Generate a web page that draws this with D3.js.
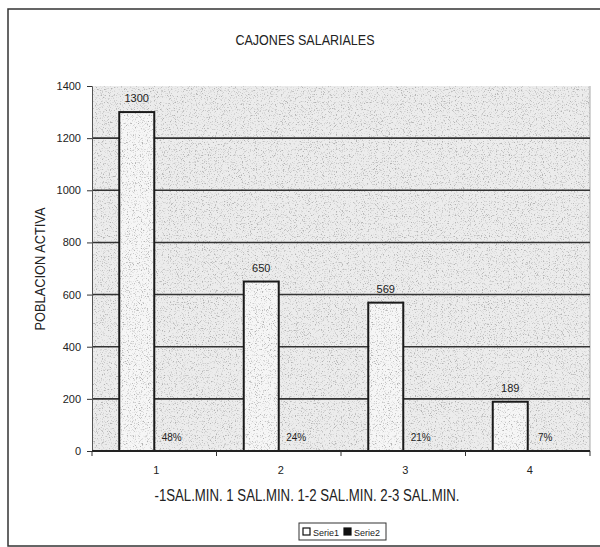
<!DOCTYPE html>
<html>
<head>
<meta charset="utf-8">
<script src="https://cdn.jsdelivr.net/npm/d3@7"></script>
<style>
  html, body { margin: 0; padding: 0; background: #fff; }
  svg { display: block; }
  text { font-family: "Liberation Sans", Arial, sans-serif; fill: #222; }
</style>
</head>
<body>
<svg id="chart" width="600" height="547"></svg>
<script>
// Population per wage bracket (Serie1) and the share of the total (Serie2)
const categories = ["1", "2", "3", "4"];
const seriesNames = ["Serie1", "Serie2"];
const poblacion = [1300, 650, 569, 189];
const porcentaje = [0.48, 0.24, 0.21, 0.07];
const yTicks = [0, 200, 400, 600, 800, 1000, 1200, 1400];
const title = "CAJONES SALARIALES";
const yTitle = "POBLACION ACTIVA";
const xTitle = "-1SAL.MIN. 1 SAL.MIN.  1-2 SAL.MIN. 2-3 SAL.MIN.";

const svg = d3.select("#chart");
const W = 600, H = 547;
const plot = { left: 92, right: 590, top: 86, bottom: 451 };

// speckled grey texture for the plot area and the bars
const defs = svg.append("defs");
const grain = defs.append("filter").attr("id", "grain")
  .attr("x", 0).attr("y", 0).attr("width", "100%").attr("height", "100%");
grain.append("feTurbulence").attr("type", "fractalNoise")
  .attr("baseFrequency", 0.85).attr("numOctaves", 2).attr("seed", 7).attr("result", "noise");
grain.append("feColorMatrix").attr("in", "noise").attr("type", "matrix")
  .attr("values", "0 0 0 0 0.45  0 0 0 0 0.45  0 0 0 0 0.45  4.5 0 0 0 -2.45")
  .attr("result", "dots");
grain.append("feComposite").attr("in", "dots").attr("in2", "SourceGraphic")
  .attr("operator", "atop");

// outer chart frame
svg.append("rect")
  .attr("x", 8).attr("y", 9).attr("width", W).attr("height", H - 10)
  .attr("fill", "#fff").attr("stroke", "#333").attr("stroke-width", 1.5);

const y = d3.scaleLinear().domain([0, 1400]).range([plot.bottom, plot.top]);
const x0 = d3.scaleBand().domain(categories).range([plot.left, plot.right]).padding(0);
const barW = 35;
const x1 = d3.scaleBand().domain(seriesNames)
  .range([(x0.bandwidth() - 2 * barW) / 2, (x0.bandwidth() + 2 * barW) / 2]).padding(0);

// plot background
svg.append("rect")
  .attr("x", plot.left).attr("y", plot.top)
  .attr("width", plot.right - plot.left).attr("height", plot.bottom - plot.top)
  .attr("fill", "#ececec").attr("filter", "url(#grain)");
svg.append("line")
  .attr("x1", plot.right).attr("x2", plot.right)
  .attr("y1", plot.top).attr("y2", plot.bottom)
  .attr("stroke", "#aaa").attr("stroke-width", 1);

// horizontal gridlines
svg.append("g").selectAll("line")
  .data(yTicks.filter(v => v > 0 && v < 1400))
  .join("line")
  .attr("x1", plot.left).attr("x2", plot.right)
  .attr("y1", d => y(d)).attr("y2", d => y(d))
  .attr("stroke", "#333").attr("stroke-width", 1.6);

// bars
const groups = svg.append("g").selectAll("g")
  .data(categories.map((c, i) => ({ c, vals: [poblacion[i], porcentaje[i]] })))
  .join("g")
  .attr("transform", d => `translate(${x0(d.c)},0)`);

groups.append("rect")
  .attr("x", x1("Serie1")).attr("width", x1.bandwidth())
  .attr("y", d => y(d.vals[0])).attr("height", d => y(0) - y(d.vals[0]))
  .attr("fill", "#f6f6f6").attr("filter", "url(#grain)");
groups.append("rect")
  .attr("x", x1("Serie1")).attr("width", x1.bandwidth())
  .attr("y", d => y(d.vals[0])).attr("height", d => y(0) - y(d.vals[0]))
  .attr("fill", "none").attr("stroke", "#1a1a1a").attr("stroke-width", 2);
groups.append("rect")
  .attr("x", x1("Serie2")).attr("width", x1.bandwidth())
  .attr("y", d => y(d.vals[1])).attr("height", d => y(0) - y(d.vals[1]))
  .attr("fill", "#111");

// value labels
groups.append("text")
  .attr("x", x1("Serie1") + x1.bandwidth() / 2)
  .attr("y", d => y(d.vals[0]) - 10)
  .attr("text-anchor", "middle").attr("font-size", 11)
  .text(d => d.vals[0]);
groups.append("text")
  .attr("x", x1("Serie2") + x1.bandwidth() / 2)
  .attr("y", d => y(d.vals[1]) - 10)
  .attr("text-anchor", "middle").attr("font-size", 10)
  .text(d => Math.round(d.vals[1] * 100) + "%");

// y axis
const yAxis = svg.append("g")
  .attr("transform", `translate(${plot.left},0)`)
  .call(d3.axisLeft(y).tickValues(yTicks).tickFormat(d3.format("d")).tickSize(5).tickPadding(6));
yAxis.select(".domain").attr("stroke", "#555").attr("stroke-width", 1);
yAxis.selectAll(".tick line").attr("stroke", "#333");
yAxis.selectAll(".tick text")
  .attr("font-size", 11).attr("fill", "#333")
  .style("font-family", "\"Liberation Sans\", Arial, sans-serif");

// x axis: ticks sit between categories, labels at category centres
const xAxisG = svg.append("g").attr("transform", `translate(0,${plot.bottom})`);
xAxisG.append("line")
  .attr("x1", plot.left).attr("x2", plot.right)
  .attr("stroke", "#222").attr("stroke-width", 2);
xAxisG.selectAll("line.tk")
  .data(categories.map(c => x0(c)).concat([plot.right]))
  .join("line").attr("class", "tk")
  .attr("x1", d => d).attr("x2", d => d)
  .attr("y1", 0).attr("y2", 5)
  .attr("stroke", "#333");
xAxisG.selectAll("text")
  .data(categories)
  .join("text")
  .attr("x", d => x0(d) + x0.bandwidth() / 2 + 2)
  .attr("y", 23)
  .attr("text-anchor", "middle").attr("font-size", 11)
  .text(d => d);

// titles
svg.append("text")
  .attr("x", 305).attr("y", 45)
  .attr("text-anchor", "middle").attr("font-size", 14)
  .attr("textLength", 139).attr("lengthAdjust", "spacingAndGlyphs")
  .text(title);
svg.append("text")
  .attr("transform", "translate(45,269) rotate(-90)")
  .attr("text-anchor", "middle").attr("font-size", 14)
  .attr("textLength", 123).attr("lengthAdjust", "spacingAndGlyphs")
  .text(yTitle);
svg.append("text")
  .attr("x", 307).attr("y", 501)
  .attr("text-anchor", "middle").attr("font-size", 16)
  .attr("textLength", 305).attr("lengthAdjust", "spacingAndGlyphs")
  .text(xTitle);

// legend
const lg = svg.append("g").attr("transform", "translate(299,523)");
lg.append("rect").attr("width", 87).attr("height", 17)
  .attr("fill", "#fff").attr("stroke", "#333").attr("stroke-width", 1);
const items = lg.selectAll("g").data(seriesNames).join("g")
  .attr("transform", (d, i) => `translate(${4 + i * 41},5)`);
items.append("rect").attr("width", 7).attr("height", 7)
  .attr("fill", (d, i) => i === 0 ? "#fff" : "#111")
  .attr("stroke", "#111").attr("stroke-width", 1.2);
items.append("text").attr("x", 10).attr("y", 7.5)
  .attr("font-size", 9).text(d => d);
</script>
</body>
</html>
